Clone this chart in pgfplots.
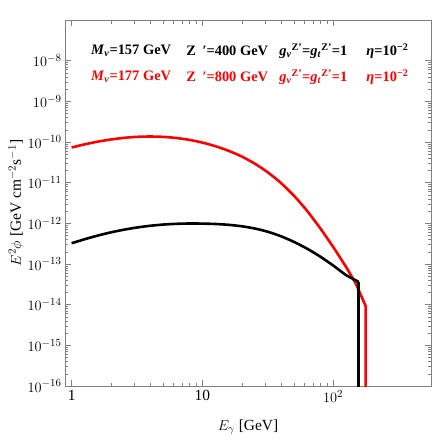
\documentclass[border=0pt]{standalone}
\usepackage{fontspec}
\setmainfont{Liberation Serif}
\usepackage{pgfplots}
\pgfplotsset{compat=1.18}
\usetikzlibrary{calc}
\definecolor{framegray}{gray}{0.5}
\begin{document}
\begin{tikzpicture}
\begin{axis}[
  name=ax,
  scale only axis,
  width=366bp, height=366bp,
  xmode=log, ymode=log,
  xmin=0.89, xmax=560,
  ymin=1e-16, ymax=1e-7,
  xtick={1,10,100},
  xticklabels={1,10,$10^{2}$},
  ytick={1e-16,1e-15,1e-14,1e-13,1e-12,1e-11,1e-10,1e-9,1e-8},
  tick align=inside,
  major tick length=6bp,
  minor tick length=3.5bp,
  axis line style={framegray, line width=0.6pt},
  every tick/.style={framegray, line width=0.5pt},
  ticklabel style={font=\fontsize{15.5}{17}\selectfont, text=black},
  xticklabel style={yshift=-1bp},
  label style={font=\fontsize{15.5}{17}\selectfont},
  xlabel={$E_\gamma$ [GeV]},
  ylabel={$E^2\phi$ [GeV cm$^{-2}$s$^{-1}$]},
  xlabel style={yshift=-10bp},
  ylabel style={yshift=-3bp},
  clip=true,
]
% red: M=177 GeV
\addplot[red, line width=2.6pt, smooth, tension=0.4] coordinates {
 (1,7.33e-11) (1.259,8.77e-11) (1.585,1.021e-10) (1.995,1.153e-10) (2.512,1.265e-10)
 (3.162,1.340e-10) (3.981,1.365e-10) (5.012,1.337e-10) (6.310,1.256e-10) (7.943,1.130e-10)
 (10,9.68e-11) (12.59,7.89e-11) (15.85,6.08e-11) (19.95,4.42e-11) (25.12,2.95e-11)
 (31.62,1.80e-11) (39.81,9.89e-12) (50.12,4.79e-12) (63.10,2.04e-12) (79.43,7.67e-13)
 (100,2.63e-13) (125.9,8.32e-14) (149,3.31e-14)
};
\addplot[red, line width=2.6pt, line join=miter] coordinates {
 (149,3.31e-14) (177,9.33e-15) (177,1e-17)
};
% black: M=157 GeV
\addplot[black, line width=2.6pt, smooth, tension=0.4] coordinates {
 (1,3.24e-13) (1.259,4.07e-13) (1.585,5.01e-13) (1.995,6.00e-13) (2.512,6.98e-13)
 (3.162,7.91e-13) (3.981,8.71e-13) (5.012,9.33e-13) (6.310,9.73e-13) (7.943,9.91e-13)
 (10,9.86e-13) (12.59,9.64e-13) (15.85,9.20e-13) (19.95,8.49e-13) (25.12,7.48e-13)
 (31.62,6.22e-13) (39.81,4.83e-13) (50.12,3.50e-13) (63.10,2.39e-13) (79.43,1.53e-13)
 (100,9.20e-14) (125.9,5.30e-14) (157,3.63e-14)
};
\addplot[black, line width=2.6pt, line join=miter] coordinates {
 (157,3.63e-14) (157,1e-17)
};
\begin{scope}[font=\fontsize{14.5}{16}\selectfont\bfseries]
\node[anchor=west] at (rel axis cs:0.062,0.915) {\textit{M}\textsubscript{\textit{ν}}=157 GeV};
\node[anchor=west] at (rel axis cs:0.322,0.915) {Z\hspace{0.45em}′=400 GeV};
\node[anchor=west] at (rel axis cs:0.576,0.915) {\textit{g}\textsubscript{\textit{ν}}\textsuperscript{Z'}=\textit{g}\textsubscript{\textit{t}}\textsuperscript{Z'}=1};
\node[anchor=west] at (rel axis cs:0.814,0.915) {\textit{η}=10\textsuperscript{−2}};
\node[anchor=west, red] at (rel axis cs:0.062,0.844) {\textit{M}\textsubscript{\textit{ν}}=177 GeV};
\node[anchor=west, red] at (rel axis cs:0.322,0.844) {Z\hspace{0.45em}′=800 GeV};
\node[anchor=west, red] at (rel axis cs:0.576,0.844) {\textit{g}\textsubscript{\textit{ν}}\textsuperscript{Z'}=\textit{g}\textsubscript{\textit{t}}\textsuperscript{Z'}=1};
\node[anchor=west, red] at (rel axis cs:0.814,0.844) {\textit{η}=10\textsuperscript{−2}};
\end{scope}
\end{axis}
\pgfresetboundingbox
\path ($(ax.south west)+(-65bp,-54bp)$) rectangle ($(ax.north east)+(5bp,20bp)$);
\end{tikzpicture}
\end{document}
